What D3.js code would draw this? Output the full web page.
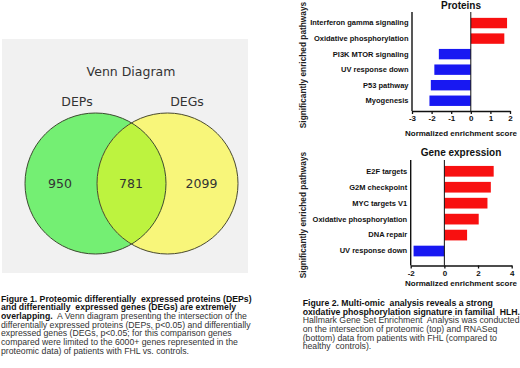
<!DOCTYPE html>
<html><head><meta charset="utf-8">
<script src="https://cdn.jsdelivr.net/npm/d3@7/dist/d3.min.js"></script>
<style>body{margin:0;background:#fff}svg{display:block}</style>
</head><body><svg id="c" width="520" height="368"></svg>
<script>
// ---- data ----
const vennTitle = "Venn Diagram";
const vennSets = ["DEPs", "DEGs"];
const vennCounts = [950, 781, 2099]; // DEPs only, both, DEGs only

const proteinPathways = ["Interferon gamma signaling","Oxidative phosphorylation","PI3K MTOR signaling","UV response down","P53 pathway","Myogenesis"];
const proteinNES = [1.85, 1.71, -1.63, -1.86, -2.04, -2.11];
const proteinTicks = [-3, -2, -1, 0, 1, 2];

const genePathways = ["E2F targets","G2M checkpoint","MYC targets V1","Oxidative phosphorylation","DNA repair","UV response down"];
const geneNES = [2.93, 2.76, 2.56, 2.04, 1.35, -1.83];
const geneTicks = [-2, 0, 2, 4];

const fig1Caption = [
  [["Figure 1. Proteomic differentially  expressed proteins (DEPs)", true]],
  [["and differentially  expressed genes (DEGs) are extremely", true]],
  [["overlapping.", true], ["  A Venn diagram presenting the intersection of the", false]],
  [["differentially expressed proteins (DEPs, p<0.05) and differentially", false]],
  [["expressed genes (DEGs, p<0.05; for this comparison genes", false]],
  [["compared were limited to the 6000+ genes represented in the", false]],
  [["proteomic data) of patients with FHL vs. controls.", false]]
];
const fig2Caption = [
  [["Figure 2. Multi-omic  analysis reveals a strong", true]],
  [["oxidative phosphorylation signature in familial  HLH.", true]],
  [["Hallmark Gene Set Enrichment  Analysis was conducted", false]],
  [["on the intersection of proteomic (top) and RNASeq", false]],
  [["(bottom) data from patients with FHL (compared to", false]],
  [["healthy  controls).", false]]
];

const svg = d3.select("#c");
const ARIAL = "'Liberation Sans', Arial, sans-serif";

// ---- Venn ----
const venn = svg.append("g");
venn.append("rect").attr("x", 2).attr("y", 39).attr("width", 246).attr("height", 234).attr("fill", "#f1f1f1");
const cy = 183.5, r = 70.5, cxL = 95.5, cxR = 167.5;
const defs = svg.append("defs");
defs.append("clipPath").attr("id", "clipL").append("circle").attr("cx", cxL).attr("cy", cy).attr("r", r);
venn.append("circle").attr("cx", cxL).attr("cy", cy).attr("r", r).attr("fill", "#74ef73");
venn.append("circle").attr("cx", cxR).attr("cy", cy).attr("r", r).attr("fill", "#f8f67a");
venn.append("circle").attr("cx", cxR).attr("cy", cy).attr("r", r).attr("fill", "#bdf33f").attr("clip-path", "url(#clipL)");
venn.append("circle").attr("cx", cxL).attr("cy", cy).attr("r", r).attr("fill", "none").attr("stroke", "#3d4a30").attr("stroke-width", 1);
venn.append("circle").attr("cx", cxR).attr("cy", cy).attr("r", r).attr("fill", "none").attr("stroke", "#4a4a30").attr("stroke-width", 1);
const VF = "'DejaVu Sans', Verdana, sans-serif";
venn.append("text").attr("x", 131).attr("y", 72).attr("dy", "0.35em").attr("text-anchor", "middle")
  .attr("font-family", VF).attr("font-size", 12.5).attr("fill", "#333").text(vennTitle);
venn.selectAll("text.set").data(vennSets).join("text").attr("class", "set")
  .attr("x", (d, i) => i === 0 ? 77 : 187).attr("y", 101.5).attr("dy", "0.35em").attr("text-anchor", "middle")
  .attr("font-family", VF).attr("font-size", 12.5).attr("fill", "#333").text(d => d);
venn.selectAll("text.cnt").data(vennCounts).join("text").attr("class", "cnt")
  .attr("x", (d, i) => [60, 131, 201.5][i]).attr("y", 183.5).attr("dy", "0.35em").attr("text-anchor", "middle")
  .attr("font-family", VF).attr("font-size", 12.5).attr("fill", "#333").text(d => d);

// ---- bar charts ----
function barChart(cfg) {
  const g = svg.append("g");
  const x = d3.scaleLinear().domain(cfg.domain).range(cfg.xr);
  const y = d3.scaleBand().domain(cfg.cats).range(cfg.yr).paddingInner(0.33).paddingOuter(0.165);
  g.selectAll("rect").data(cfg.vals).join("rect")
    .attr("x", d => x(Math.min(0, d)))
    .attr("width", d => Math.abs(x(d) - x(0)))
    .attr("y", (d, i) => y(cfg.cats[i]))
    .attr("height", y.bandwidth())
    .attr("fill", d => d >= 0 ? "#f81010" : "#1818f2");
  g.append("line").attr("x1", x(0)).attr("x2", x(0)).attr("y1", cfg.axTop).attr("y2", cfg.axY)
    .attr("stroke", "#111").attr("stroke-width", 1);
  const xa = g.append("g").attr("transform", `translate(0,${cfg.axY})`)
    .call(d3.axisBottom(x).tickValues(cfg.ticks).tickSize(3).tickSizeOuter(0).tickFormat(d => String(d)));
  xa.select(".domain").attr("stroke", "#111").attr("stroke-width", 1.4);
  xa.selectAll(".tick line").attr("stroke", "#111").attr("stroke-width", 1.3);
  xa.selectAll("text").attr("font-family", ARIAL).attr("font-weight", "bold").attr("font-size", 8).attr("fill", "#111").attr("dy", "0.55em");
  const ya = g.append("g").attr("transform", `translate(${cfg.xr[0]},0)`)
    .call(d3.axisLeft(y).tickSize(0).tickPadding(3.5));
  ya.select(".domain").attr("d", `M0,${cfg.axTop}V${cfg.axY}`).attr("stroke", "#111").attr("stroke-width", 1.4);
  ya.selectAll("text").attr("font-family", ARIAL).attr("font-weight", "bold").attr("font-size", 7.5).attr("fill", "#111");
  g.append("text").attr("x", cfg.titleX).attr("y", cfg.titleY).attr("dy", "0.35em").attr("text-anchor", "middle")
    .attr("font-family", ARIAL).attr("font-weight", "bold").attr("font-size", 10).attr("fill", "#111").text(cfg.title);
  g.append("text").attr("x", 461).attr("y", cfg.xTitleY).attr("dy", "0.35em").attr("text-anchor", "middle")
    .attr("font-family", ARIAL).attr("font-weight", "bold").attr("font-size", 8).attr("fill", "#111").text("Normalized enrichment score");
  g.append("text").attr("transform", `translate(303,${cfg.yTitleY}) rotate(-90)`).attr("dy", "0.35em").attr("text-anchor", "middle")
    .attr("font-family", ARIAL).attr("font-weight", "bold").attr("font-size", 8.3).attr("fill", "#222").text("Significantly enriched pathways");
}

barChart({cats: proteinPathways, vals: proteinNES, ticks: proteinTicks, domain: [-3, 2], xr: [412, 510],
  yr: [15.3, 108.5], axTop: 12, axY: 111, title: "Proteins", titleX: 461, titleY: 5.5, xTitleY: 133, yTitleY: 65});
barChart({cats: genePathways, vals: geneNES, ticks: geneTicks, domain: [-2, 4], xr: [410.7, 511.7],
  yr: [163.3, 259], axTop: 160, axY: 265.5, title: "Gene expression", titleX: 461, titleY: 152.7, xTitleY: 283.5, yTitleY: 215});

// ---- captions ----
function caption(lines, x0, y0, lh, fs) {
  const t = svg.append("text").attr("font-family", ARIAL).attr("font-size", fs);
  lines.forEach((segs, i) => {
    segs.forEach((s, j) => {
      const ts = t.append("tspan").style("white-space", "pre")
        .attr("font-weight", s[1] ? "bold" : "normal").attr("fill", s[1] ? "#111" : "#333").text(s[0]);
      if (j === 0) ts.attr("x", x0).attr("y", y0 + i * lh);
    });
  });
}
caption(fig1Caption, 1, 301.5, 8.67, 8.7);
caption(fig2Caption, 302.7, 305.9, 8.67, 8.7);
</script></body></html>
